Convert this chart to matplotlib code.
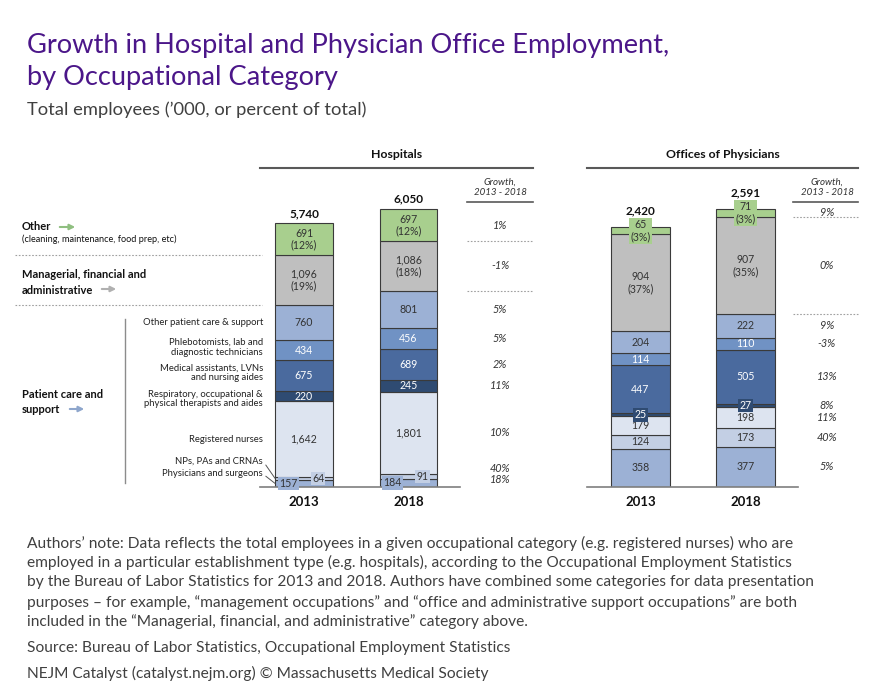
import numpy as np
import matplotlib.pyplot as plt
from matplotlib.transforms import blended_transform_factory

plt.rcParams['font.family'] = ['Lato', 'DejaVu Sans']

W, H = 870, 698

# stacked from the bottom up
categories = ['Physicians and surgeons', 'NPs, PAs and CRNAs', 'Registered nurses',
              'Respiratory, occupational &\nphysical therapists and aides',
              'Medical assistants, LVNs\nand nursing aides',
              'Phlebotomists, lab and\ndiagnostic technicians',
              'Other patient care & support',
              'Managerial, financial and administrative', 'Other']
years = ['2013', '2018']

hosp_2013 = [157, 64, 1642, 220, 675, 434, 760, 1096, 691]
hosp_2018 = [184, 91, 1801, 245, 689, 456, 801, 1086, 697]
hosp_totals = [5740, 6050]
hosp_growth = ['18%', '40%', '10%', '11%', '2%', '5%', '5%', '-1%', '1%']

phys_2013 = [358, 124, 179, 25, 447, 114, 204, 904, 65]
phys_2018 = [377, 173, 198, 27, 505, 110, 222, 907, 71]
phys_totals = [2420, 2591]
phys_growth = ['5%', '40%', '11%', '8%', '13%', '-3%', '9%', '0%', '9%']

colors = ['#9cb1d5', '#c3cfe4', '#dde4f0', '#2f4b72', '#4a6a9e',
          '#7092c4', '#9cb1d5', '#bfbfbf', '#a8cf8e']
txt_colors = ['#333333'] * 3 + ['white'] * 3 + ['#333333'] * 3
TXT = '#333333'


def fx(x):
    return x / W


def fy(y):
    return 1 - y / H


fig = plt.figure(figsize=(8.7, 6.98), dpi=100)

AX_TOP, AX_BOT = 168, 487
AX_H = AX_BOT - AX_TOP


def draw_panel(ax, data, totals, growth, title, gx, rule, base_end, side=None, gnudge=None):
    side = side or {}
    gnudge = gnudge or {}
    ymax = max(totals) * AX_H / 278
    ax.set_ylim(0, ymax)
    ppu = AX_H / ymax
    ax.axis('off')
    xs = np.arange(len(data))
    bottoms = np.zeros(len(data))
    for i, col in enumerate(colors):
        vals = np.array([d[i] for d in data], dtype=float)
        ax.bar(xs, vals, bottom=bottoms, width=0.555, color=col,
               edgecolor='#3a3a3a', linewidth=0.8, zorder=2)
        for j, v in enumerate(vals):
            lab = f'{int(v):,}'
            if i >= 7:
                lab += f'\n({round(100 * v / totals[j])}%)'
            box = None
            if v * ppu < 9:
                box = dict(boxstyle='square,pad=0.12', fc=col, ec='none')
            ax.text(xs[j] + side.get(i, 0), bottoms[j] + v / 2, lab, ha='center', va='center',
                    fontsize=7.6, color=txt_colors[i], linespacing=1.1, bbox=box, zorder=4)
        ax.annotate(growth[i], (gx, bottoms[-1] + vals[-1] / 2), xytext=(0, gnudge.get(i, 0)),
                    textcoords='offset points', ha='center', va='center',
                    fontsize=7.8, style='italic', color=TXT)
        bottoms += vals
    # totals above bars, year labels below
    for j, t in enumerate(totals):
        extra = 8 if data[j][-1] * ppu < 9 else 3
        ax.annotate(f'{t:,}', (xs[j], bottoms[j]), xytext=(0, extra), textcoords='offset points',
                    ha='center', va='bottom', fontsize=8.5, fontweight='bold', color='#111111')
        ax.annotate(years[j], (xs[j], 0), xytext=(0, -11), textcoords='offset points',
                    ha='center', va='center', fontsize=9.5, fontweight='bold', color='#111111')
    # baseline
    ax.plot([ax.get_xlim()[0], base_end], [0, 0], color='#7f7f7f', lw=1.2, zorder=3, clip_on=False)
    # header
    ax.plot([0, 1], [1, 1], transform=ax.transAxes, color='#595959', lw=1.5, clip_on=False)
    ax.text(0.5, 1 + 13 / AX_H, title, transform=ax.transAxes, ha='center', va='center',
            fontsize=8.8, fontweight='bold', color='#111111')
    ax.text(gx, 1 - 19 / AX_H, 'Growth,\n2013 - 2018', transform=ax.get_xaxis_transform(),
            ha='center', va='center', fontsize=7, style='italic', color=TXT, linespacing=1.15)
    ax.plot(rule, [1 - 34 / AX_H] * 2, transform=ax.get_xaxis_transform(),
            color='#595959', lw=1.2, clip_on=False)
    # dotted separators in growth column
    last = np.cumsum(data[-1])
    for k in (6, 7):
        ax.plot(rule, [last[k]] * 2, color='#a0a0a0', lw=0.8, ls=(0, (1.5, 1.5)), clip_on=False)


ax_h = fig.add_axes([fx(260), fy(AX_BOT), fx(533 - 260), AX_H / H])
ax_h.set_xlim(-(304 - 260) / 104.5, (533 - 304) / 104.5)
draw_panel(ax_h, [hosp_2013, hosp_2018], hosp_totals, hosp_growth, 'Hospitals',
           gx=1.876, rule=[1.56, 2.191], base_end=1.49,
           side={0: -0.15, 1: 0.135}, gnudge={0: 2, 1: 6})

ax_p = fig.add_axes([fx(587), fy(AX_BOT), fx(858 - 587), AX_H / H])
ax_p.set_xlim(-(640.5 - 587) / 105, (858 - 640.5) / 105)
draw_panel(ax_p, [phys_2013, phys_2018], phys_totals, phys_growth, 'Offices of Physicians',
           gx=1.776, rule=[1.45, 2.071], base_end=1.5)

# left-hand group labels
cum13 = np.cumsum(hosp_2013)
tr = blended_transform_factory(fig.transFigure, ax_h.transData)
for k in (6, 7):
    ax_h.plot([fx(15), fx(262)], [cum13[k]] * 2, transform=tr, color='#a0a0a0',
              lw=0.8, ls=(0, (1.5, 1.5)), clip_on=False)

fig.text(fx(22), fy(227), 'Other', fontsize=8, fontweight='bold', color='#111111', va='center')
fig.text(fx(22), fy(239), '(cleaning, maintenance, food prep, etc)', fontsize=6.6,
         color='#111111', va='center')
fig.text(fx(22), fy(275), 'Managerial, financial and', fontsize=8, fontweight='bold',
         color='#111111', va='center')
fig.text(fx(22), fy(290), 'administrative', fontsize=8, fontweight='bold',
         color='#111111', va='center')
fig.text(fx(22), fy(394), 'Patient care and', fontsize=8, fontweight='bold',
         color='#111111', va='center')
fig.text(fx(22), fy(409), 'support', fontsize=8, fontweight='bold', color='#111111', va='center')

for (x0, x1, y, c) in [(57, 78, 227, '#8fbf80'), (99, 119, 289, '#b0b0b0'), (67, 87, 409, '#8ea6cc')]:
    fig.add_artist(plt.Annotation('', xy=(fx(x1), fy(y)), xytext=(fx(x0), fy(y)),
                                  xycoords='figure fraction', textcoords='figure fraction',
                                  arrowprops=dict(arrowstyle='-|>', color=c, lw=1.5,
                                                  mutation_scale=8)))

fig.add_artist(plt.Line2D([fx(125), fx(125)], [fy(319), fy(483)], color='#8c8c8c', lw=1))

# sub-category labels for patient care, next to the 2013 hospital segments
bot13 = np.concatenate([[0], cum13[:-1]])
label_nudge = {3: -2, 4: 2, 5: 2}
for i in range(2, 7):
    ax_h.annotate(categories[i], (fx(263), bot13[i] + hosp_2013[i] / 2), xycoords=tr,
                  xytext=(0, label_nudge.get(i, 0)), textcoords='offset points',
                  ha='right', va='center', fontsize=6.8, color='#222222', linespacing=1.1)
for i, ty in ((1, 461), (0, 474)):
    ax_h.annotate(categories[i], xy=(-0.2775, bot13[i] + hosp_2013[i] / 2),
                  xytext=(fx(263), fy(ty)), textcoords='figure fraction',
                  ha='right', va='center', fontsize=6.8, color='#222222',
                  arrowprops=dict(arrowstyle='-', color='#555555', lw=0.7,
                                  shrinkA=0, shrinkB=0, relpos=(1, 0.5)))

# titles
fig.text(fx(27), fy(46), 'Growth in Hospital and Physician Office Employment,', fontsize=19.6,
         color='#4b1689', va='center')
fig.text(fx(27), fy(78), 'by Occupational Category', fontsize=19.6, color='#4b1689', va='center')
fig.text(fx(27), fy(110), 'Total employees (\u2019000, or percent of total)', fontsize=13.2,
         color='#404040', va='center')

note = [
    'Authors\u2019 note: Data reflects the total employees in a given occupational category (e.g. registered nurses) who are',
    'employed in a particular establishment type (e.g. hospitals), according to the Occupational Employment Statistics',
    'by the Bureau of Labor Statistics for 2013 and 2018. Authors have combined some categories for data presentation',
    'purposes \u2013 for example, \u201cmanagement occupations\u201d and \u201coffice and administrative support occupations\u201d are both',
    'included in the \u201cManagerial, financial, and administrative\u201d category above.',
]
for k, line in enumerate(note):
    fig.text(fx(27), fy(543 + 19.7 * k), line, fontsize=11.2, color='#404040', va='center')
fig.text(fx(27), fy(648), 'Source: Bureau of Labor Statistics, Occupational Employment Statistics',
         fontsize=11.2, color='#404040', va='center')
fig.text(fx(27), fy(673), 'NEJM Catalyst (catalyst.nejm.org) \u00a9 Massachusetts Medical Society',
         fontsize=11.2, color='#404040', va='center')

fig.savefig('out.png', dpi=100)
